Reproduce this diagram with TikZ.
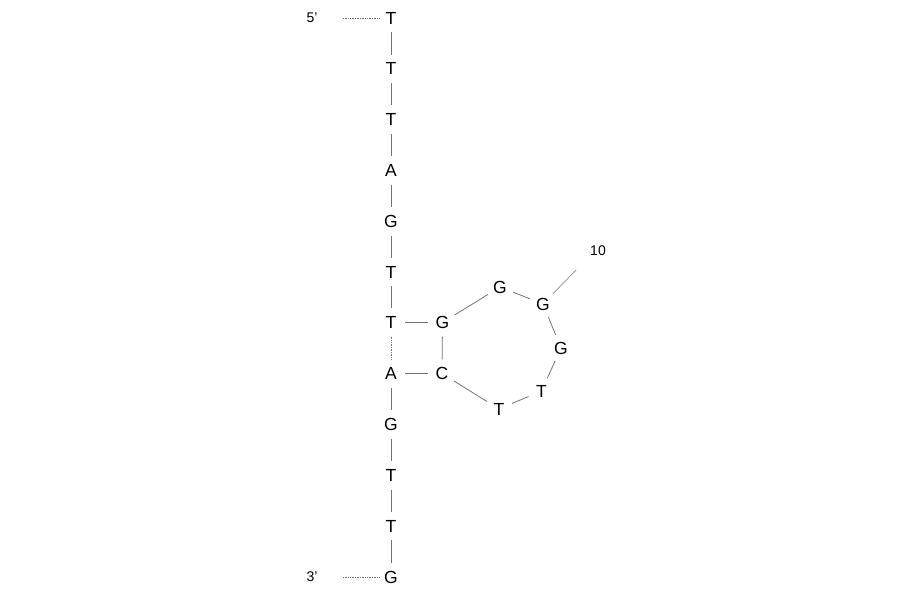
\documentclass[tikz,border=0pt]{standalone}
\usepackage{fontspec}
\setmainfont{Liberation Sans}
\begin{document}
\begin{tikzpicture}[x=1pt,y=-1pt,
  base/.style={circle,inner sep=0pt,minimum size=28pt,font=\fontsize{17.5}{18}\selectfont},
  lab/.style={inner sep=0pt,font=\fontsize{14}{15}\selectfont},
  bond/.style={draw=black!55,line width=0.8pt},
  faint/.style={draw=black!55,line width=0.7pt,densely dotted}]
\useasboundingbox (0,0) rectangle (900,594);
% stem
\node[base] (n1) at (391,18) {T};
\node[base] (n2) at (391,68.8) {T};
\node[base] (n3) at (391,119.6) {T};
\node[base] (n4) at (391,170.5) {A};
\node[base] (n5) at (391,221.3) {G};
\node[base] (n6) at (391,272.1) {T};
\node[base] (n7) at (391,322.5) {T};
\node[base] (n8) at (442.5,322.5) {G};
\node[base] (n9) at (500,287) {G};
\node[base] (n10) at (543,304) {G};
\node[base] (n11) at (561,348) {G};
\node[base] (n12) at (541.5,391) {T};
\node[base] (n13) at (499,409) {T};
\node[base] (n14) at (442,373.5) {C};
\node[base] (n15) at (391,373.5) {A};
\node[base] (n16) at (391,424.5) {G};
\node[base] (n17) at (391,475.4) {T};
\node[base] (n18) at (391,526.2) {T};
\node[base] (n19) at (391,577) {G};
% labels
\node[lab] (p5) at (312,18) {5'};
\node[lab] (p3) at (312,577) {3'};
\node[lab] (l10) at (598,251) {10};
\coordinate (e5a) at (343,18);
\coordinate (e5b) at (380,18);
\coordinate (e3a) at (343,577);
\coordinate (e3b) at (380,577);
\coordinate (t10) at (576,270);
% backbone
\draw[bond] (n1) -- (n2);
\draw[bond] (n2) -- (n3);
\draw[bond] (n3) -- (n4);
\draw[bond] (n4) -- (n5);
\draw[bond] (n5) -- (n6);
\draw[bond] (n6) -- (n7);
\draw[bond] (n7) -- (n8);
\draw[bond] (n8) -- (n9);
\draw[bond] (n9) -- (n10);
\draw[bond] (n10) -- (n11);
\draw[bond] (n11) -- (n12);
\draw[bond] (n12) -- (n13);
\draw[bond] (n13) -- (n14);
\draw[bond] (n14) -- (n15);
\draw[bond] (n15) -- (n16);
\draw[bond] (n16) -- (n17);
\draw[bond] (n17) -- (n18);
\draw[bond] (n18) -- (n19);
% pairs
\draw[bond] (n8) -- (n14);
\draw[faint] (n7) -- (n15);
% ends
\draw[faint] (e5a) -- (e5b);
\draw[faint] (e3a) -- (e3b);
\draw[draw=black!45,line width=0.7pt] (n10) -- (t10);
\end{tikzpicture}
\end{document}
